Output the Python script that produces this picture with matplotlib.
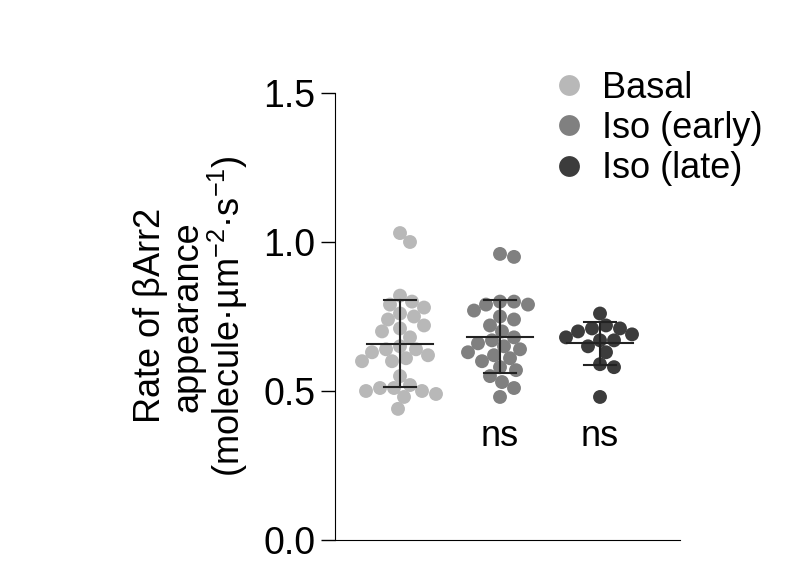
import matplotlib
matplotlib.use("Agg")
import numpy as np
import matplotlib.pyplot as plt
from matplotlib.lines import Line2D

plt.rcParams['font.family'] = ['Liberation Sans', 'DejaVu Sans']

groups = ['Basal', 'Iso (early)', 'Iso (late)']
colors = ['#b8b8b8', '#808080', '#3c3c3c']
basal = [1.03, 1.00, 0.82, 0.80, 0.79, 0.78, 0.76, 0.75, 0.74, 0.72, 0.71, 0.70, 0.68,
         0.65, 0.64, 0.64, 0.63, 0.62, 0.61, 0.60, 0.60, 0.55, 0.52, 0.51, 0.51, 0.50,
         0.50, 0.49, 0.48, 0.44]
early = [0.96, 0.95, 0.80, 0.80, 0.79, 0.79, 0.77, 0.75, 0.74, 0.72, 0.70, 0.68, 0.67,
         0.66, 0.65, 0.64, 0.63, 0.62, 0.61, 0.60, 0.58, 0.57, 0.55, 0.53, 0.51, 0.48]
late = [0.76, 0.72, 0.71, 0.71, 0.70, 0.69, 0.68, 0.67, 0.67, 0.65, 0.63, 0.59, 0.58, 0.48]
data = [basal, early, late]
sig = ['', 'ns', 'ns']

fig = plt.figure(figsize=(8.1, 5.83), dpi=100)
ax = fig.add_axes([335/810, 1 - 540/583, 345/810, 447/583])
ax.set_xlim(-0.65, 2.8)
ax.set_ylim(0, 1.5)

px_x, px_y, diam = 100.0, 298.0, 14.0


def swarm(vals):
    # simple beeswarm in pixel space
    placed = []
    offs = []
    for v in vals:
        y = v * px_y
        best = None
        for k in range(0, 40):
            for cand in ([0.0] if k == 0 else [k * 2.0, -k * 2.0]):
                if all((cand - px) ** 2 + (y - py) ** 2 >= (diam * 0.92) ** 2 for px, py in placed):
                    best = cand
                    break
            if best is not None:
                break
        placed.append((best, y))
        offs.append(best / px_x)
    return np.array(offs)


for i, vals in enumerate(data):
    vals = np.array(vals)
    xs = i + swarm(vals)
    ax.scatter(xs, vals, s=100, color=colors[i], edgecolor='none', zorder=2)
    m, sd = vals.mean(), vals.std(ddof=1)
    ax.plot([i - 0.33, i + 0.33], [m, m], color='#222222', lw=1.5, zorder=3)
    ax.plot([i, i], [m - sd, m + sd], color='#222222', lw=1.5, zorder=3)
    for yy in (m - sd, m + sd):
        ax.plot([i - 0.16, i + 0.16], [yy, yy], color='#222222', lw=1.5, zorder=3)
    if sig[i]:
        ax.text(i, 0.405, sig[i], ha='center', va='top', fontsize=26)

ax.spines['top'].set_visible(False)
ax.spines['right'].set_visible(False)
ax.set_xticks([])
ax.set_yticks([0.0, 0.5, 1.0, 1.5])
ax.set_yticklabels(['0.0', '0.5', '1.0', '1.5'], fontsize=27)
ax.tick_params(axis='y', length=10, width=1, pad=4)
ax.set_ylabel('Rate of $\\mathregular{\\beta}$Arr2\nappearance\n(molecule·µm$^{\\mathregular{-2}}$·s$^{\\mathregular{-1}}$)',
              fontsize=26, linespacing=1.0, labelpad=10)

handles = [Line2D([], [], marker='o', ls='none', ms=15, color=c, markeredgecolor='none')
           for c in colors]
leg = fig.legend(handles, groups, loc='upper left', bbox_to_anchor=(515/810, 1 - 38/583),
                 frameon=False, fontsize=26, handletextpad=0.3, labelspacing=0.15,
                 handlelength=1.2)
fig.savefig('out.png', dpi=100)
